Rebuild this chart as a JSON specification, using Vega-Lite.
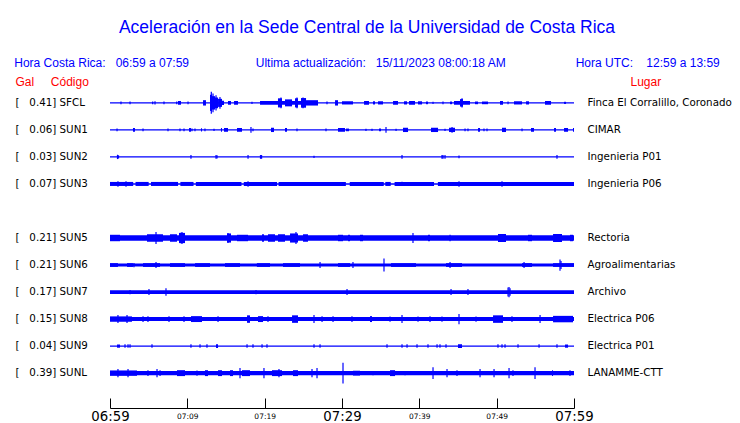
{
  "$schema": "https://vega.github.io/schema/vega-lite/v6.json",
  "autosize": {"type": "none"},
  "padding": {"left": 110, "top": 68, "right": 166, "bottom": 15},
  "width": 464,
  "height": 340,
  "background": "white",
  "title": {
    "text": "Aceleración en la Sede Central de la Universidad de Costa Rica",
    "subtitle": "\u00a0\u00a0Hora Costa Rica:\u00a0\u00a0\u00a006:59 a 07:59\u00a0\u00a0\u00a0\u00a0\u00a0\u00a0\u00a0\u00a0\u00a0\u00a0\u00a0\u00a0\u00a0\u00a0\u00a0\u00a0\u00a0\u00a0\u00a0\u00a0Ultima actualización:\u00a0\u00a0\u00a015/11/2023 08:00:18 AM\u00a0\u00a0\u00a0\u00a0\u00a0\u00a0\u00a0\u00a0\u00a0\u00a0\u00a0\u00a0\u00a0\u00a0\u00a0\u00a0\u00a0\u00a0\u00a0\u00a0\u00a0Hora UTC:\u00a0\u00a0\u00a0\u00a012:59 a 13:59",
    "anchor": "middle",
    "frame": "group",
    "dx": 25,
    "offset": -1,
    "subtitlePadding": 22,
    "font": "Liberation Sans",
    "fontSize": 17.5,
    "fontWeight": "normal",
    "color": "#0000ff",
    "subtitleFont": "Liberation Sans",
    "subtitleFontSize": 12,
    "subtitleColor": "#0000ff"
  },
  "datasets": {
    "seg": [
      {"s":"SFCL","t0":0,"t1":60,"a":0.025},
      {"s":"SFCL","t0":8.79,"t1":9.18,"a":0.07},
      {"s":"SFCL","t0":12.03,"t1":12.41,"a":0.1},
      {"s":"SFCL","t0":12.93,"t1":13.19,"a":0.3},
      {"s":"SFCL","t0":13.19,"t1":13.58,"a":0.25},
      {"s":"SFCL","t0":13.58,"t1":13.97,"a":0.2},
      {"s":"SFCL","t0":13.97,"t1":14.48,"a":0.15},
      {"s":"SFCL","t0":14.48,"t1":14.74,"a":0.08},
      {"s":"SFCL","t0":15.26,"t1":15.65,"a":0.07},
      {"s":"SFCL","t0":16.04,"t1":16.55,"a":0.07},
      {"s":"SFCL","t0":19.4,"t1":26.9,"a":0.07},
      {"s":"SFCL","t0":21.72,"t1":22.24,"a":0.17},
      {"s":"SFCL","t0":22.63,"t1":23.54,"a":0.13},
      {"s":"SFCL","t0":23.92,"t1":24.31,"a":0.17},
      {"s":"SFCL","t0":24.7,"t1":25.35,"a":0.18},
      {"s":"SFCL","t0":25.35,"t1":26.9,"a":0.1},
      {"s":"SFCL","t0":29.1,"t1":29.48,"a":0.1},
      {"s":"SFCL","t0":30.0,"t1":31.42,"a":0.06},
      {"s":"SFCL","t0":32.85,"t1":33.49,"a":0.07},
      {"s":"SFCL","t0":34.01,"t1":34.27,"a":0.06},
      {"s":"SFCL","t0":34.66,"t1":35.3,"a":0.06},
      {"s":"SFCL","t0":36.6,"t1":37.24,"a":0.07},
      {"s":"SFCL","t0":38.02,"t1":38.41,"a":0.06},
      {"s":"SFCL","t0":38.67,"t1":39.44,"a":0.07},
      {"s":"SFCL","t0":39.83,"t1":40.35,"a":0.06},
      {"s":"SFCL","t0":40.86,"t1":41.12,"a":0.05},
      {"s":"SFCL","t0":43.97,"t1":44.23,"a":0.05},
      {"s":"SFCL","t0":44.48,"t1":46.55,"a":0.07},
      {"s":"SFCL","t0":45.26,"t1":45.65,"a":0.14},
      {"s":"SFCL","t0":47.2,"t1":47.59,"a":0.05},
      {"s":"SFCL","t0":48.1,"t1":48.88,"a":0.05},
      {"s":"SFCL","t0":50.43,"t1":50.82,"a":0.07},
      {"s":"SFCL","t0":52.24,"t1":53.28,"a":0.06},
      {"s":"SFCL","t0":53.8,"t1":54.18,"a":0.06},
      {"s":"SFCL","t0":56.25,"t1":57.03,"a":0.07},
      {"s":"SFCL","t0":58.71,"t1":58.97,"a":0.04},

      {"s":"SUN1","t0":0,"t1":60,"a":0.025},
      {"s":"SUN1","t0":2.97,"t1":3.23,"a":0.07},
      {"s":"SUN1","t0":10.22,"t1":10.47,"a":0.07},
      {"s":"SUN1","t0":11.77,"t1":11.9,"a":0.06},
      {"s":"SUN1","t0":14.35,"t1":14.48,"a":0.07},
      {"s":"SUN1","t0":14.74,"t1":15.26,"a":0.07},
      {"s":"SUN1","t0":16.42,"t1":17.07,"a":0.07},
      {"s":"SUN1","t0":20.82,"t1":21.21,"a":0.08},
      {"s":"SUN1","t0":22.63,"t1":22.89,"a":0.07},
      {"s":"SUN1","t0":29.48,"t1":30.39,"a":0.07},
      {"s":"SUN1","t0":30.52,"t1":30.91,"a":0.05},
      {"s":"SUN1","t0":34.79,"t1":35.04,"a":0.05},
      {"s":"SUN1","t0":37.89,"t1":38.54,"a":0.08},
      {"s":"SUN1","t0":41.51,"t1":42.42,"a":0.08},
      {"s":"SUN1","t0":43.84,"t1":44.61,"a":0.08},
      {"s":"SUN1","t0":47.59,"t1":47.85,"a":0.07},
      {"s":"SUN1","t0":50.69,"t1":51.21,"a":0.08},
      {"s":"SUN1","t0":54.44,"t1":54.83,"a":0.07},
      {"s":"SUN1","t0":57.42,"t1":57.67,"a":0.07},
      {"s":"SUN1","t0":58.71,"t1":59.23,"a":0.07},
      {"s":"SUN1","t0":59.87,"t1":60,"a":0.07},

      {"s":"SUN2","t0":0,"t1":60,"a":0.025},

      {"s":"SUN3","t0":0,"t1":60,"a":0.03},
      {"s":"SUN3","t0":0,"t1":3.0,"a":0.075},
      {"s":"SUN3","t0":3.3,"t1":5.0,"a":0.075},
      {"s":"SUN3","t0":5.3,"t1":8.8,"a":0.075},
      {"s":"SUN3","t0":9.1,"t1":10.8,"a":0.075},
      {"s":"SUN3","t0":11.1,"t1":17.0,"a":0.075},
      {"s":"SUN3","t0":17.3,"t1":21.6,"a":0.075},
      {"s":"SUN3","t0":21.8,"t1":30.5,"a":0.075},
      {"s":"SUN3","t0":31.0,"t1":35.4,"a":0.075},
      {"s":"SUN3","t0":35.6,"t1":36.3,"a":0.075},
      {"s":"SUN3","t0":36.8,"t1":41.9,"a":0.075},
      {"s":"SUN3","t0":42.4,"t1":60,"a":0.075},

      {"s":"SUN5","t0":0,"t1":60,"a":0.1},
      {"s":"SUN5","t0":0,"t1":1.29,"a":0.12},
      {"s":"SUN5","t0":4.78,"t1":6.85,"a":0.14},
      {"s":"SUN5","t0":7.76,"t1":8.66,"a":0.14},
      {"s":"SUN5","t0":8.92,"t1":9.7,"a":0.19},
      {"s":"SUN5","t0":15.13,"t1":15.65,"a":0.17},
      {"s":"SUN5","t0":16.42,"t1":17.85,"a":0.12},
      {"s":"SUN5","t0":19.66,"t1":19.91,"a":0.14},
      {"s":"SUN5","t0":20.43,"t1":21.34,"a":0.14},
      {"s":"SUN5","t0":21.72,"t1":22.63,"a":0.14},
      {"s":"SUN5","t0":23.28,"t1":24.31,"a":0.17},
      {"s":"SUN5","t0":24.96,"t1":25.6,"a":0.14},
      {"s":"SUN5","t0":29.48,"t1":30.13,"a":0.12},
      {"s":"SUN5","t0":30.78,"t1":31.04,"a":0.12},
      {"s":"SUN5","t0":32.33,"t1":32.72,"a":0.12},
      {"s":"SUN5","t0":41.12,"t1":41.38,"a":0.12},
      {"s":"SUN5","t0":50.17,"t1":51.21,"a":0.15},
      {"s":"SUN5","t0":54.05,"t1":54.57,"a":0.12},
      {"s":"SUN5","t0":57.29,"t1":58.45,"a":0.15},
      {"s":"SUN5","t0":59.48,"t1":59.87,"a":0.12},

      {"s":"SUN6","t0":0,"t1":60,"a":0.055},
      {"s":"SUN6","t0":0,"t1":1.03,"a":0.07},
      {"s":"SUN6","t0":2.2,"t1":2.97,"a":0.07},
      {"s":"SUN6","t0":4.27,"t1":6.47,"a":0.07},
      {"s":"SUN6","t0":7.76,"t1":9.7,"a":0.07},
      {"s":"SUN6","t0":11.0,"t1":12.93,"a":0.07},
      {"s":"SUN6","t0":14.87,"t1":16.81,"a":0.07},
      {"s":"SUN6","t0":18.99,"t1":20.69,"a":0.07},
      {"s":"SUN6","t0":22.37,"t1":24.57,"a":0.07},
      {"s":"SUN6","t0":29.48,"t1":31.04,"a":0.07},
      {"s":"SUN6","t0":36.34,"t1":39.57,"a":0.07},
      {"s":"SUN6","t0":43.45,"t1":45.52,"a":0.07},
      {"s":"SUN6","t0":53.28,"t1":54.57,"a":0.07},
      {"s":"SUN6","t0":57.29,"t1":60,"a":0.07},

      {"s":"SUN7","t0":0,"t1":60,"a":0.07},

      {"s":"SUN8","t0":0,"t1":60,"a":0.075},
      {"s":"SUN8","t0":0,"t1":2.84,"a":0.1},
      {"s":"SUN8","t0":10.47,"t1":11.9,"a":0.11},
      {"s":"SUN8","t0":17.72,"t1":18.1,"a":0.14},
      {"s":"SUN8","t0":19.14,"t1":19.79,"a":0.11},
      {"s":"SUN8","t0":23.54,"t1":24.31,"a":0.14},
      {"s":"SUN8","t0":33.62,"t1":33.88,"a":0.11},
      {"s":"SUN8","t0":49.53,"t1":50.82,"a":0.14},
      {"s":"SUN8","t0":57.29,"t1":59.87,"a":0.12},

      {"s":"SUN9","t0":0,"t1":60,"a":0.025},
      {"s":"SUN9","t0":0.91,"t1":1.29,"a":0.06},
      {"s":"SUN9","t0":13.71,"t1":13.97,"a":0.07},
      {"s":"SUN9","t0":45.0,"t1":45.52,"a":0.07},
      {"s":"SUN9","t0":58.84,"t1":59.23,"a":0.06},

      {"s":"SUNL","t0":0,"t1":60,"a":0.075},
      {"s":"SUNL","t0":0,"t1":3.49,"a":0.1},
      {"s":"SUNL","t0":8.66,"t1":9.7,"a":0.11},
      {"s":"SUNL","t0":12.28,"t1":12.67,"a":0.11},
      {"s":"SUNL","t0":13.97,"t1":14.48,"a":0.11},
      {"s":"SUNL","t0":15.52,"t1":15.91,"a":0.11},
      {"s":"SUNL","t0":17.07,"t1":18.1,"a":0.11},
      {"s":"SUNL","t0":20.95,"t1":22.24,"a":0.11},
      {"s":"SUNL","t0":23.66,"t1":24.31,"a":0.11},
      {"s":"SUNL","t0":31.42,"t1":32.33,"a":0.09},
      {"s":"SUNL","t0":36.21,"t1":36.86,"a":0.11},
      {"s":"SUNL","t0":57.16,"t1":57.29,"a":0.11}
    ],
    "spk": [
      {"s":"SFCL","t":1.42,"a":0.05},{"s":"SFCL","t":2.59,"a":0.05},{"s":"SFCL","t":5.52,"a":0.05},{"s":"SFCL","t":5.82,"a":0.06},
      {"s":"SFCL","t":6.98,"a":0.05},{"s":"SFCL","t":8.63,"a":0.05},{"s":"SFCL","t":10.09,"a":0.05},{"s":"SFCL","t":13.1,"a":0.41},
      {"s":"SFCL","t":13.32,"a":0.35},{"s":"SFCL","t":13.71,"a":0.28},{"s":"SFCL","t":14.22,"a":0.22},{"s":"SFCL","t":18.36,"a":0.04},
      {"s":"SFCL","t":22.11,"a":0.2},{"s":"SFCL","t":24.18,"a":0.2},{"s":"SFCL","t":24.96,"a":0.2},{"s":"SFCL","t":28.06,"a":0.05},
      {"s":"SFCL","t":41.77,"a":0.04},{"s":"SFCL","t":43.06,"a":0.05},{"s":"SFCL","t":45.52,"a":0.17},{"s":"SFCL","t":51.47,"a":0.05},

      {"s":"SUN1","t":0.91,"a":0.05},{"s":"SUN1","t":4.27,"a":0.05},{"s":"SUN1","t":7.5,"a":0.05},{"s":"SUN1","t":9.05,"a":0.05},
      {"s":"SUN1","t":9.57,"a":0.05},{"s":"SUN1","t":10.6,"a":0.05},{"s":"SUN1","t":10.99,"a":0.05},{"s":"SUN1","t":12.28,"a":0.05},
      {"s":"SUN1","t":13.45,"a":0.04},{"s":"SUN1","t":18.23,"a":0.11},{"s":"SUN1","t":18.49,"a":0.05},{"s":"SUN1","t":24.18,"a":0.05},
      {"s":"SUN1","t":27.93,"a":0.05},{"s":"SUN1","t":33.1,"a":0.04},{"s":"SUN1","t":33.88,"a":0.04},{"s":"SUN1","t":35.69,"a":0.11},
      {"s":"SUN1","t":36.99,"a":0.04},{"s":"SUN1","t":43.32,"a":0.04},{"s":"SUN1","t":44.23,"a":0.11},{"s":"SUN1","t":45.91,"a":0.05},
      {"s":"SUN1","t":46.29,"a":0.05},{"s":"SUN1","t":48.36,"a":0.05},{"s":"SUN1","t":48.75,"a":0.05},{"s":"SUN1","t":53.28,"a":0.05},

      {"s":"SUN2","t":0.97,"a":0.08},{"s":"SUN2","t":1.1,"a":0.06},{"s":"SUN2","t":10.47,"a":0.07},{"s":"SUN2","t":13.71,"a":0.07},
      {"s":"SUN2","t":13.84,"a":0.06},{"s":"SUN2","t":17.85,"a":0.07},{"s":"SUN2","t":19.46,"a":0.07},{"s":"SUN2","t":19.6,"a":0.07},
      {"s":"SUN2","t":26.38,"a":0.04},{"s":"SUN2","t":37.76,"a":0.07},{"s":"SUN2","t":42.93,"a":0.07},{"s":"SUN2","t":43.06,"a":0.07},
      {"s":"SUN2","t":43.32,"a":0.07},{"s":"SUN2","t":45.13,"a":0.05},{"s":"SUN2","t":57.8,"a":0.07},

      {"s":"SUN3","t":1.03,"a":0.1},{"s":"SUN3","t":2.07,"a":0.1},{"s":"SUN3","t":17.85,"a":0.1},{"s":"SUN3","t":37.76,"a":0.08},
      {"s":"SUN3","t":45.13,"a":0.1},{"s":"SUN3","t":50.69,"a":0.1},{"s":"SUN3","t":57.8,"a":0.07},

      {"s":"SUN5","t":5.95,"a":0.22},{"s":"SUN5","t":9.18,"a":0.2},{"s":"SUN5","t":9.31,"a":0.22},{"s":"SUN5","t":15.26,"a":0.19},
      {"s":"SUN5","t":24.05,"a":0.22},{"s":"SUN5","t":39.18,"a":0.19},{"s":"SUN5","t":43.97,"a":0.12},{"s":"SUN5","t":50.43,"a":0.15},
      {"s":"SUN5","t":57.93,"a":0.15},

      {"s":"SUN6","t":3.1,"a":0.08},{"s":"SUN6","t":5.95,"a":0.11},{"s":"SUN6","t":27.16,"a":0.11},{"s":"SUN6","t":31.42,"a":0.11},
      {"s":"SUN6","t":35.43,"a":0.24},{"s":"SUN6","t":43.97,"a":0.11},{"s":"SUN6","t":53.54,"a":0.11},{"s":"SUN6","t":58.19,"a":0.21},
      {"s":"SUN6","t":58.32,"a":0.15},

      {"s":"SUN7","t":2.59,"a":0.08},{"s":"SUN7","t":5.04,"a":0.11},{"s":"SUN7","t":7.24,"a":0.14},{"s":"SUN7","t":18.88,"a":0.08},
      {"s":"SUN7","t":30.65,"a":0.11},{"s":"SUN7","t":44.1,"a":0.11},{"s":"SUN7","t":46.29,"a":0.11},{"s":"SUN7","t":51.47,"a":0.17},
      {"s":"SUN7","t":51.6,"a":0.19},{"s":"SUN7","t":51.73,"a":0.14},

      {"s":"SUN8","t":1.03,"a":0.15},{"s":"SUN8","t":2.2,"a":0.15},{"s":"SUN8","t":4.27,"a":0.11},{"s":"SUN8","t":4.91,"a":0.11},
      {"s":"SUN8","t":7.63,"a":0.11},{"s":"SUN8","t":9.57,"a":0.11},{"s":"SUN8","t":13.97,"a":0.11},{"s":"SUN8","t":20.43,"a":0.11},
      {"s":"SUN8","t":26.38,"a":0.15},{"s":"SUN8","t":27.42,"a":0.11},{"s":"SUN8","t":28.84,"a":0.11},{"s":"SUN8","t":31.29,"a":0.11},
      {"s":"SUN8","t":36.21,"a":0.1},{"s":"SUN8","t":37.76,"a":0.15},{"s":"SUN8","t":39.83,"a":0.1},{"s":"SUN8","t":41.38,"a":0.11},
      {"s":"SUN8","t":42.93,"a":0.1},{"s":"SUN8","t":45.13,"a":0.19},{"s":"SUN8","t":47.33,"a":0.1},{"s":"SUN8","t":51.98,"a":0.11},
      {"s":"SUN8","t":55.61,"a":0.15},

      {"s":"SUN9","t":1.94,"a":0.065},{"s":"SUN9","t":2.33,"a":0.065},{"s":"SUN9","t":2.59,"a":0.065},{"s":"SUN9","t":5.43,"a":0.065},
      {"s":"SUN9","t":10.47,"a":0.065},{"s":"SUN9","t":11.64,"a":0.065},{"s":"SUN9","t":12.54,"a":0.065},{"s":"SUN9","t":17.72,"a":0.065},
      {"s":"SUN9","t":18.49,"a":0.065},{"s":"SUN9","t":19.66,"a":0.065},{"s":"SUN9","t":20.3,"a":0.065},{"s":"SUN9","t":26.38,"a":0.065},
      {"s":"SUN9","t":27.16,"a":0.065},{"s":"SUN9","t":35.82,"a":0.065},{"s":"SUN9","t":37.76,"a":0.065},{"s":"SUN9","t":38.41,"a":0.065},
      {"s":"SUN9","t":39.7,"a":0.065},{"s":"SUN9","t":41.12,"a":0.065},{"s":"SUN9","t":42.29,"a":0.065},{"s":"SUN9","t":42.67,"a":0.065},
      {"s":"SUN9","t":43.45,"a":0.065},{"s":"SUN9","t":50.17,"a":0.065},{"s":"SUN9","t":50.69,"a":0.065},{"s":"SUN9","t":51.08,"a":0.065},
      {"s":"SUN9","t":52.76,"a":0.065},{"s":"SUN9","t":55.48,"a":0.065},{"s":"SUN9","t":57.8,"a":0.065},

      {"s":"SUNL","t":1.03,"a":0.15},{"s":"SUNL","t":2.33,"a":0.15},{"s":"SUNL","t":4.91,"a":0.11},{"s":"SUNL","t":6.08,"a":0.15},
      {"s":"SUNL","t":6.47,"a":0.11},{"s":"SUNL","t":11.25,"a":0.1},{"s":"SUNL","t":16.81,"a":0.19},{"s":"SUNL","t":19.91,"a":0.19},
      {"s":"SUNL","t":21.85,"a":0.15},{"s":"SUNL","t":26.12,"a":0.15},{"s":"SUNL","t":26.77,"a":0.19},{"s":"SUNL","t":30.13,"a":0.39},
      {"s":"SUNL","t":34.01,"a":0.08},{"s":"SUNL","t":38.15,"a":0.08},{"s":"SUNL","t":41.77,"a":0.22},{"s":"SUNL","t":43.58,"a":0.15},
      {"s":"SUNL","t":44.87,"a":0.11},{"s":"SUNL","t":47.85,"a":0.15},{"s":"SUNL","t":49.66,"a":0.15},{"s":"SUNL","t":51.6,"a":0.19},
      {"s":"SUNL","t":52.11,"a":0.11},{"s":"SUNL","t":54.96,"a":0.22},{"s":"SUNL","t":59.48,"a":0.11}
    ]
  },
  "resolve": {"axis": {"y": "independent"}},
  "layer": [
    {
      "data": {"name": "seg"},
      "mark": {"type": "bar", "color": "#0000ff"},
      "encoding": {
        "x": {
          "field": "t0", "type": "quantitative",
          "scale": {"domain": [0, 60], "nice": false, "zero": false},
          "axis": {
            "title": null,
            "values": [0, 5, 10, 15, 20, 25, 30, 35, 40, 45, 50, 55, 60],
            "labelExpr": "datum.value % 10 == 0 ? timeFormat(datetime(2023, 10, 15, 6, 59 + datum.value), '%H:%M') : ''",
            "tickSize": -10,
            "labelPadding": 18.5,
            "labelBaseline": "middle",
            "labelFont": "DejaVu Sans",
            "labelFontSize": {"condition": {"test": "datum.value % 30 == 0", "value": 13.3}, "value": 7.5},
            "labelColor": "black",
            "domainColor": "black",
            "tickColor": "black",
            "labelOverlap": false,
            "labelFlush": false,
            "grid": false
          }
        },
        "x2": {"field": "t1"},
        "y": {
          "field": "s", "type": "nominal",
          "scale": {"type": "band", "domain": ["SFCL","SUN1","SUN2","SUN3","SUN4","SUN5","SUN6","SUN7","SUN8","SUN9","SUNL"], "paddingInner": 0, "paddingOuter": 0.79},
          "axis": {
            "orient": "left",
            "title": "Gal\u00a0\u00a0\u00a0\u00a0\u00a0Código",
            "titleAngle": 0, "titleAlign": "left", "titleBaseline": "alphabetic",
            "titleX": -95, "titleY": 17,
            "titleColor": "#ff0000", "titleFont": "Liberation Sans", "titleFontSize": 12, "titleFontWeight": "normal",
            "labelExpr": "{'SFCL':'[\u00a0\u00a0\u00a00.41] SFCL','SUN1':'[\u00a0\u00a0\u00a00.06] SUN1','SUN2':'[\u00a0\u00a0\u00a00.03] SUN2','SUN3':'[\u00a0\u00a0\u00a00.07] SUN3','SUN4':'','SUN5':'[\u00a0\u00a0\u00a00.21] SUN5','SUN6':'[\u00a0\u00a0\u00a00.21] SUN6','SUN7':'[\u00a0\u00a0\u00a00.17] SUN7','SUN8':'[\u00a0\u00a0\u00a00.15] SUN8','SUN9':'[\u00a0\u00a0\u00a00.04] SUN9','SUNL':'[\u00a0\u00a0\u00a00.39] SUNL'}[datum.value]",
            "labelAlign": "left", "labelPadding": 95, "labelBaseline": "middle",
            "labelFont": "DejaVu Sans", "labelFontSize": 10.3, "labelColor": "black",
            "ticks": false, "domain": false, "labelOverlap": false, "labelLimit": 0, "grid": false
          }
        },
        "size": {"field": "a", "type": "quantitative", "scale": {"domain": [0, 0.41], "range": [0, 22], "zero": true}, "legend": null}
      }
    },
    {
      "data": {"name": "spk"},
      "mark": {"type": "tick", "color": "#0000ff", "thickness": 1.2, "opacity": 1},
      "encoding": {
        "x": {"field": "t", "type": "quantitative", "title": null},
        "y": {
          "field": "s", "type": "nominal",
          "axis": {
            "orient": "right",
            "title": "Lugar",
            "titleAngle": 0, "titleAlign": "left", "titleBaseline": "alphabetic",
            "titleX": 56, "titleY": 17,
            "titleColor": "#ff0000", "titleFont": "Liberation Sans", "titleFontSize": 12, "titleFontWeight": "normal",
            "labelExpr": "{'SFCL':'Finca El Corralillo, Coronado','SUN1':'CIMAR','SUN2':'Ingenieria P01','SUN3':'Ingenieria P06','SUN4':'','SUN5':'Rectoria','SUN6':'Agroalimentarias','SUN7':'Archivo','SUN8':'Electrica P06','SUN9':'Electrica P01','SUNL':'LANAMME-CTT'}[datum.value]",
            "labelAlign": "left", "labelPadding": 13, "labelBaseline": "middle",
            "labelFont": "DejaVu Sans", "labelFontSize": 10.3, "labelColor": "black",
            "ticks": false, "domain": false, "labelOverlap": false, "labelLimit": 0, "grid": false
          }
        },
        "size": {"field": "a", "type": "quantitative", "legend": null}
      }
    }
  ],
  "config": {
    "view": {"stroke": null},
    "axis": {"grid": false}
  }
}
